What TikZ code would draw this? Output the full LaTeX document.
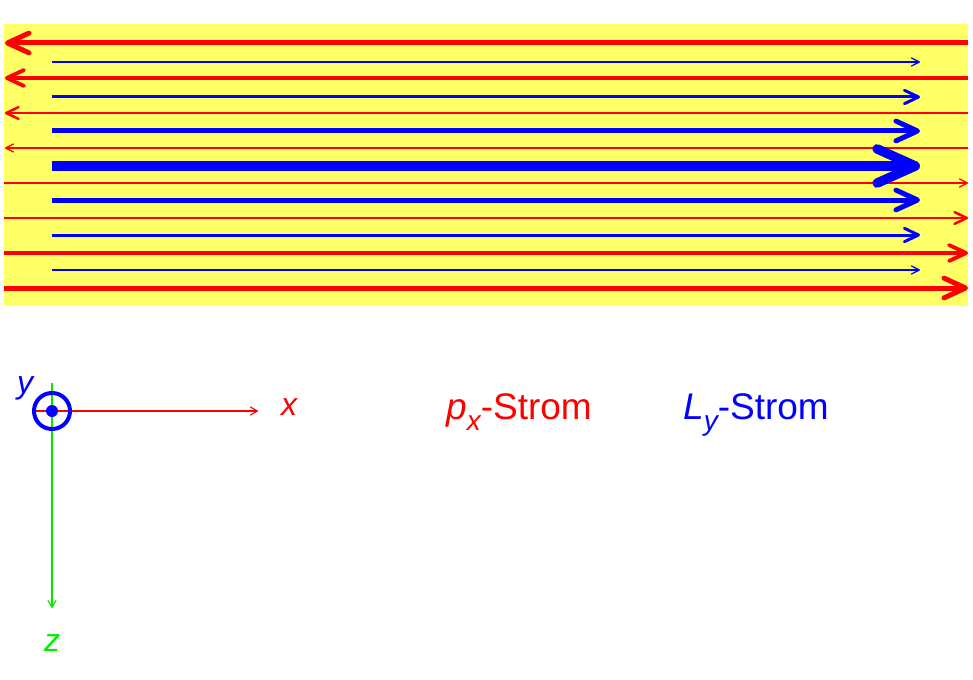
\documentclass[tikz,border=0pt]{standalone}
\usepackage{fontspec}
\setmainfont{Liberation Sans}
\usetikzlibrary{arrows.meta}
\definecolor{band}{RGB}{255,255,102}
\definecolor{zgreen}{RGB}{0,235,0}
\newcommand{\sub}[1]{\raisebox{-0.32em}{\fontsize{28}{28}\selectfont\itshape #1}}
\begin{document}
\begin{tikzpicture}[x=1pt,y=-1pt,
  flow/.style={-{Straight Barb[length=3pt 3.7,width=3.8pt 3.2,round]}},
  px/.style={flow,red},
  ly/.style={flow,blue},
  axis/.style={-{Straight Barb[length=7pt,width=8pt,round]},line width=1.2pt},
  lab/.style={font=\fontsize{32}{38}\selectfont,inner sep=0pt},
  leg/.style={font=\fontsize{37}{44}\selectfont,inner sep=0pt,anchor=base}]
\useasboundingbox (0,0) rectangle (973,679);
% flow band
\fill[band] (4,24) rectangle (968,306);
% p_x current, left in the upper half, right in the lower half
\foreach \y/\w in {43/5,78/3.8,113/2.5,148/1.3}
  \draw[px,line width=\w pt] (968,\y) -- (5,\y);
\foreach \y/\w in {183/1.3,218/2.5,253/3.8,288/5}
  \draw[px,line width=\w pt] (4,\y) -- (968,\y);
% L_y current
\foreach \y/\w in {62/1.3,97/3,131/5,166/9.5,200/5,235/3,270/1.3}
  \draw[ly,line width=\w pt] (52,\y) -- (920,\y);
% axes
\coordinate (o) at (52,411);
\coordinate (xs) at (34,411);
\coordinate (xe) at (258,411);
\coordinate (zs) at (52,383);
\coordinate (ze) at (52,608);
\draw[axis,zgreen] (zs) -- (ze);
\draw[axis,red] (xs) -- (xe);
\draw[blue,line width=4pt] (o) circle[radius=18];
\fill[blue] (o) circle[radius=6];
\node[lab,red] (xl) at (289,407) {\itshape x};
\node[lab,blue] (yl) at (25,388) {\itshape y};
\node[lab,zgreen] (zl) at (52,643) {\itshape z};
% legend
\node[leg,red] (pxl) at (519,419) {\itshape p\sub{x}\upshape-Strom};
\node[leg,blue] (lyl) at (756,419) {\itshape L\sub{y}\upshape-Strom};
\end{tikzpicture}
\end{document}
